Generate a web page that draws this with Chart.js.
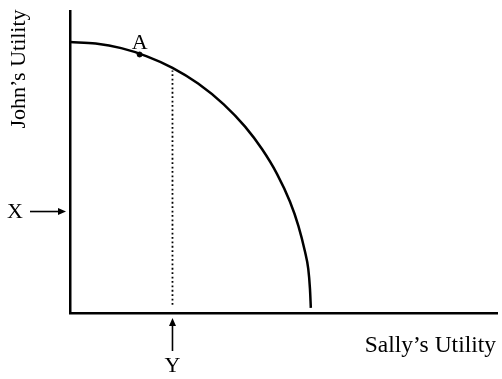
<!DOCTYPE html>
<html>
<head>
<meta charset="utf-8">
<script src="https://cdn.jsdelivr.net/npm/chart.js@4/dist/chart.umd.min.js"></script>
<style>
  html, body { margin: 0; padding: 0; background: #fff; }
  #wrap { width: 502px; height: 379px; }
</style>
</head>
<body>
<div id="wrap"><canvas id="c" width="502" height="379"></canvas></div>
<script>
// frontier (Sally on x, John on y)
const frontierX = [0, 6, 12, 18, 24, 30, 36, 41, 45, 48.5, 51.5, 53.5, 55, 55.8, 56.2, 56.4];
const frontierY = [89.7, 89.2, 87.7, 85.0, 81.2, 76.0, 69.1, 61.7, 54.2, 46.0, 36.9, 28.8, 20.5, 14.6, 8.0, 1.7];
const pointA = { x: 16.3, y: 85.6, label: 'A' };
const markY = { x: 24, from: 2.7, to: 80.3, label: 'Y' };
const markX = { y: 33.6, label: 'X' };
const xTitle = 'Sally’s Utility';
const yTitle = 'John’s Utility';

const SERIF = '"Liberation Serif", "Times New Roman", serif';

const notes = {
  id: 'notes',
  afterDraw(chart) {
    const ctx = chart.ctx, x = chart.scales.x, y = chart.scales.y, a = chart.chartArea;
    ctx.save();
    ctx.fillStyle = '#000';
    ctx.strokeStyle = '#000';
    ctx.font = '22px ' + SERIF;

    // A label
    const ax = x.getPixelForValue(pointA.x), ay = y.getPixelForValue(pointA.y);
    ctx.textAlign = 'center';
    ctx.textBaseline = 'alphabetic';
    ctx.fillText(pointA.label, ax, ay - 5);

    // X arrow on the left
    const xy = y.getPixelForValue(markX.y);
    ctx.lineWidth = 1.6;
    ctx.beginPath();
    ctx.moveTo(a.left - 40, xy);
    ctx.lineTo(a.left - 8, xy);
    ctx.stroke();
    ctx.beginPath();
    ctx.moveTo(a.left - 4, xy);
    ctx.lineTo(a.left - 12, xy - 3.5);
    ctx.lineTo(a.left - 12, xy + 3.5);
    ctx.closePath();
    ctx.fill();
    ctx.textAlign = 'center';
    ctx.textBaseline = 'middle';
    ctx.fillText(markX.label, 15, xy + 1);

    // Y arrow below
    const yx = x.getPixelForValue(markY.x);
    ctx.beginPath();
    ctx.moveTo(yx, a.bottom + 38);
    ctx.lineTo(yx, a.bottom + 10);
    ctx.stroke();
    ctx.beginPath();
    ctx.moveTo(yx, a.bottom + 5);
    ctx.lineTo(yx - 3.5, a.bottom + 13);
    ctx.lineTo(yx + 3.5, a.bottom + 13);
    ctx.closePath();
    ctx.fill();
    ctx.fillText(markY.label, yx, a.bottom + 53);

    // axis titles
    ctx.font = '23.5px ' + SERIF;
    ctx.textAlign = 'right';
    ctx.textBaseline = 'alphabetic';
    ctx.fillText(xTitle, 496, a.bottom + 39);
    ctx.font = '22px ' + SERIF;
    ctx.translate(19, 69);
    ctx.rotate(-Math.PI / 2);
    ctx.textAlign = 'center';
    ctx.textBaseline = 'middle';
    ctx.fillText(yTitle, 0, 0);
    ctx.restore();
  }
};

new Chart(document.getElementById('c'), {
  type: 'line',
  data: {
    datasets: [
      {
        data: frontierX.map((v, i) => ({ x: v, y: frontierY[i] })),
        borderColor: '#000', borderWidth: 2.5, pointRadius: 0,
        cubicInterpolationMode: 'monotone', fill: false, clip: false
      },
      {
        data: [{ x: markY.x, y: markY.from }, { x: markY.x, y: markY.to }],
        borderColor: '#000', borderWidth: 1.8, borderDash: [1.8, 2.6], pointRadius: 0, fill: false
      },
      {
        data: [{ x: pointA.x, y: pointA.y }],
        showLine: false, pointRadius: 2.5, pointBackgroundColor: '#000', pointBorderColor: '#000', clip: false
      }
    ]
  },
  options: {
    responsive: false,
    animation: false,
    layout: { padding: { left: 70, right: 2, top: 11, bottom: 66 } },
    plugins: { legend: { display: false }, tooltip: { enabled: false } },
    scales: {
      x: {
        type: 'linear', min: 0, max: 100,
        ticks: { display: false },
        grid: { display: false, drawTicks: false },
        border: { display: true, color: '#000', width: 2.5 }
      },
      y: {
        type: 'linear', min: 0, max: 100,
        ticks: { display: false },
        grid: { display: false, drawTicks: false },
        border: { display: true, color: '#000', width: 2.5 }
      }
    }
  },
  plugins: [notes]
});
</script>
</body>
</html>
